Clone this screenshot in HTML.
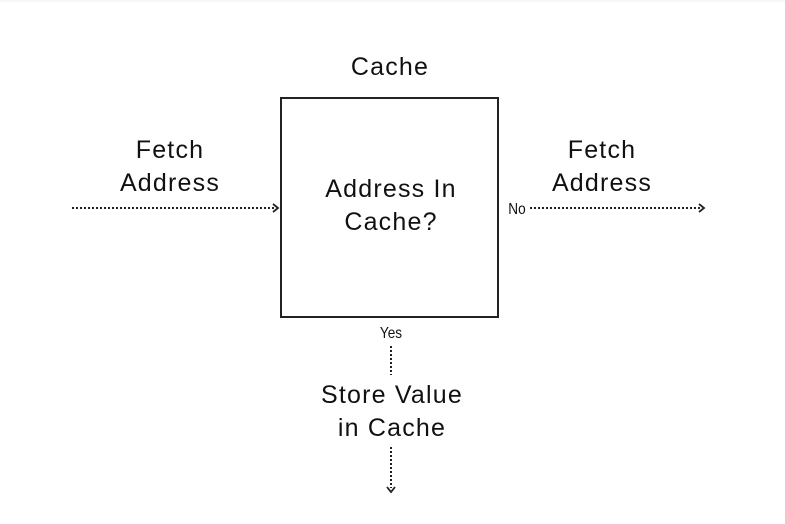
<!DOCTYPE html>
<html><head><style>
body{margin:0;width:785px;height:519px;background:#fff;overflow:hidden}
svg text{font-family:"Liberation Sans",sans-serif;fill:#111}
</style></head><body>
<svg width="785" height="519" viewBox="0 0 785 519">
<line x1="0" y1="1" x2="785" y2="1" stroke="#eee"/>
<rect x="281" y="98" width="217" height="219" fill="none" stroke="#222" stroke-width="2"/>
<g font-size="25" text-anchor="middle" letter-spacing="1.2">
<text x="390" y="75">Cache</text>
<text x="170" y="158">Fetch</text>
<text x="170" y="191">Address</text>
<text x="602" y="158">Fetch</text>
<text x="602" y="191">Address</text>
<text x="391" y="197">Address In</text>
<text x="391" y="230">Cache?</text>
<text x="392" y="403">Store Value</text>
<text x="392" y="436">in Cache</text>
</g>
<g font-size="16" text-anchor="middle">
<text x="517" y="214" transform="translate(517 0) scale(0.85 1) translate(-517 0)">No</text>
<text x="391" y="338" transform="translate(391 0) scale(0.85 1) translate(-391 0)">Yes</text>
</g>
<g stroke="#222" stroke-width="2" stroke-dasharray="2 2" fill="none">
<line x1="72" y1="208" x2="276" y2="208"/>
<line x1="530" y1="208" x2="701" y2="208"/>
<line x1="391" y1="346" x2="391" y2="375"/>
<line x1="391" y1="447" x2="391" y2="488"/>
</g>
<g stroke="#222" stroke-width="1.8" fill="none">
<polyline points="273,204 278,208 273,212"/>
<polyline points="699,204 704,208 699,212"/>
<polyline points="387,487 391,492 395,487"/>
</g>
</svg>
</body></html>
